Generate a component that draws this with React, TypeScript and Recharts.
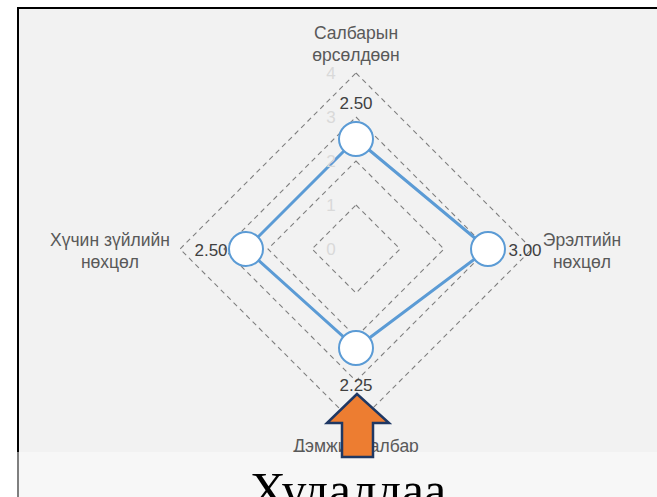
import { PolarAngleAxis, PolarGrid, PolarRadiusAxis, Radar, RadarChart } from 'recharts'

// Porter diamond scores for the trade sector
const FACTORS = ['Салбарын өрсөлдөөн', 'Эрэлтийн нөхцөл', 'Дэмжих салбар', 'Хүчин зүйлийн нөхцөл']
const FACTOR_LINES = [['Салбарын', 'өрсөлдөөн'], ['Эрэлтийн', 'нөхцөл'], ['Дэмжих салбар'], ['Хүчин зүйлийн', 'нөхцөл']]
const SCORES = [2.5, 3.0, 2.25, 2.5]
const RADIUS_TICKS = [0, 1, 2, 3, 4]
const TITLE = 'Худалдаа'

const data = FACTORS.map((f, i) => ({ factor: f, score: SCORES[i] }))

const BLUE = '#5b9bd5'
const FONT = '"Liberation Sans", Arial, sans-serif'
const CX = 339
const CY = 242
const R = 176

// where each category label sits (chart coords)
const LABEL_POS = [
  { x: CX, y: 26 },
  { x: 565, y: 233 },
  { x: CX, y: 439 },
  { x: 93, y: 233 },
]
// value label offset from its dot
const VALUE_OFFSET = [
  { dx: 0, dy: -36 },
  { dx: 37, dy: 1 },
  { dx: 0, dy: 37 },
  { dx: -35, dy: 1 },
]

function AngleTick(props: any) {
  const i = FACTORS.indexOf(props.payload?.value)
  if (i < 0) return null
  const pos = LABEL_POS[i]
  return (
    <g>
      {FACTOR_LINES[i].map((line, k) => (
        <text
          key={k}
          x={pos.x}
          y={pos.y + k * 22}
          textAnchor="middle"
          dominantBaseline="central"
          fill="#595959"
          fontSize={17.5}
          fontFamily={FONT}
        >
          {line}
        </text>
      ))}
    </g>
  )
}

function RadiusTick(props: any) {
  const { x, y, payload } = props
  return (
    <text
      x={x - 25}
      y={y}
      textAnchor="middle"
      dominantBaseline="central"
      fill="#d9d9d9"
      fontSize={17}
      fontFamily={FONT}
    >
      {payload.value}
    </text>
  )
}

function ScoreDot(props: any) {
  const { cx, cy, index } = props
  const value = props.payload?.value ?? SCORES[index]
  const off = VALUE_OFFSET[index] ?? { dx: 0, dy: 0 }
  return (
    <g key={`dot-${index}`}>
      <circle cx={cx} cy={cy} r={17} fill="#fff" stroke={BLUE} strokeWidth={2} />
      <text
        x={cx + off.dx}
        y={cy + off.dy}
        textAnchor="middle"
        dominantBaseline="central"
        fill="#404040"
        fontSize={17}
        fontFamily={FONT}
      >
        {Number(value).toFixed(2)}
      </text>
    </g>
  )
}

export default function App() {
  return (
    <div style={{ position: 'absolute', left: 0, top: 0, width: 657, height: 497, background: '#fff', overflow: 'hidden' }}>
      <div
        style={{
          position: 'absolute',
          left: 17,
          top: 7,
          width: 640,
          height: 445,
          background: '#f2f2f2',
          borderLeft: '2px solid #000',
          borderTop: '2px solid #000',
          boxSizing: 'border-box',
        }}
      />
      <div
        style={{
          position: 'absolute',
          left: 17,
          top: 452,
          width: 640,
          height: 45,
          background: '#f7f7f7',
          borderLeft: '2px solid #7f7f7f',
          boxSizing: 'border-box',
        }}
      />
      <div style={{ position: 'absolute', left: 17, top: 7 }}>
        <RadarChart width={640} height={445} data={data} cx={CX} cy={CY} outerRadius={R} style={{ overflow: 'visible' }}>
          <PolarGrid gridType="polygon" radialLines={false} stroke="#7f7f7f" strokeWidth={1.1} strokeDasharray="5 4" />
          <PolarAngleAxis dataKey="factor" tick={<AngleTick />} tickLine={false} axisLine={false} />
          <PolarRadiusAxis
            angle={90}
            domain={[0, 4]}
            ticks={RADIUS_TICKS as any}
            tickCount={5}
            tick={<RadiusTick />}
            axisLine={false}
            tickLine={false}
          />
          <Radar
            dataKey="score"
            stroke={BLUE}
            strokeWidth={3}
            fill="none"
            fillOpacity={0}
            dot={(p: any) => <ScoreDot {...p} />}
            isAnimationActive={false}
          />
        </RadarChart>
      </div>
      <svg width={657} height={497} style={{ position: 'absolute', left: 0, top: 0, pointerEvents: 'none' }}>
        <polygon
          points="357,394 327,423 342,423 342,457 373,457 373,423 389,423"
          fill="#ed7d31"
          stroke="#1f3864"
          strokeWidth={2.5}
          strokeLinejoin="miter"
        />
        <text x={348} y={507} textAnchor="middle" fontSize={50} fontFamily='"Liberation Serif", "DejaVu Serif", serif' fill="#000">
          {TITLE}
        </text>
      </svg>
    </div>
  )
}
